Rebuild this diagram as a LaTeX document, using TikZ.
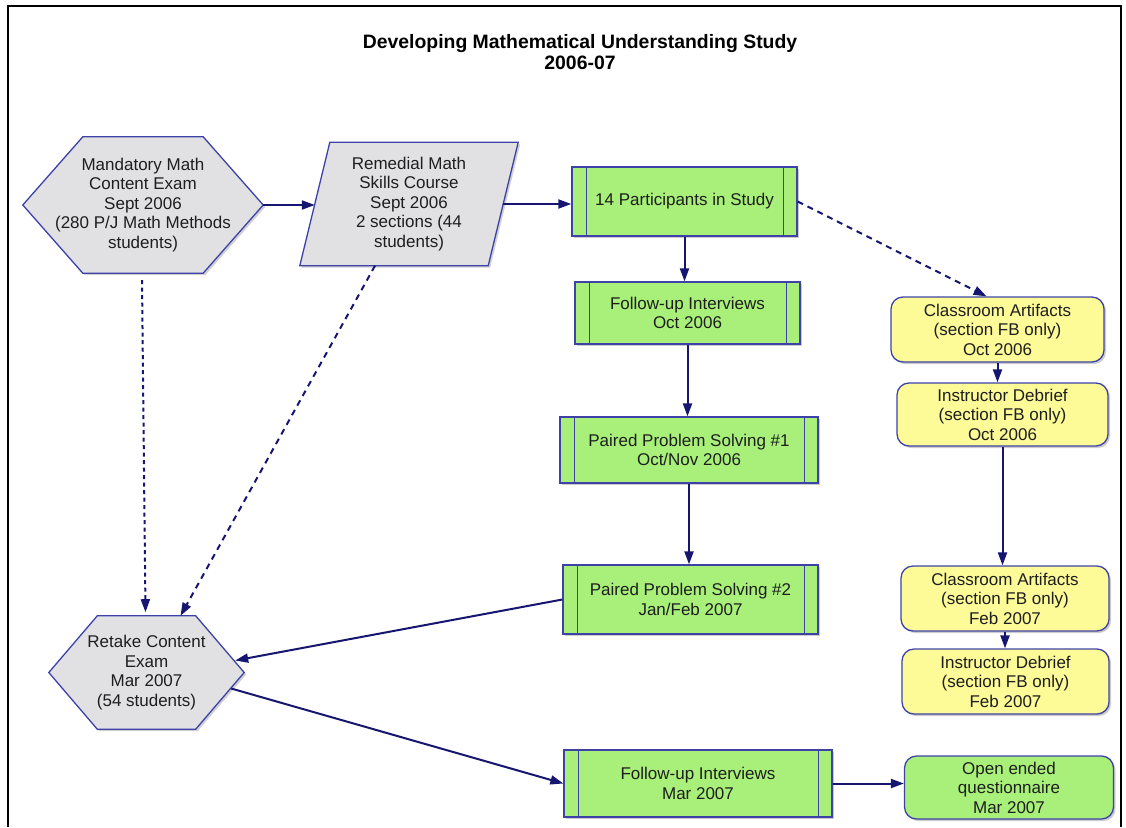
\documentclass[tikz,border=0pt]{standalone}
\usepackage{fontspec}
\setmainfont{Liberation Sans}
\usetikzlibrary{arrows.meta,calc,backgrounds,shadows}
\definecolor{bordc}{RGB}{62,66,168}
\definecolor{grayc}{RGB}{225,225,227}
\definecolor{grn}{RGB}{168,240,122}
\definecolor{ylw}{RGB}{253,250,152}
\definecolor{arrc}{RGB}{22,22,112}
\definecolor{txtc}{RGB}{30,30,30}
\tikzset{
  txt/.style={font=\fontsize{17}{19.5}\selectfont, text=txtc, align=center, inner sep=0pt},
  shd/.style={drop shadow={shadow xshift=2pt, shadow yshift=-2pt, fill=black, opacity=0.2}},
  proc/.style={txt, draw=bordc, line width=1.3pt, fill=grn, shd,
    path picture={
      \draw[bordc, line width=1pt] ([xshift=14pt]path picture bounding box.north west) -- ([xshift=14pt]path picture bounding box.south west);
      \draw[bordc, line width=1pt] ([xshift=-14pt]path picture bounding box.north east) -- ([xshift=-14pt]path picture bounding box.south east);
    }},
  ybox/.style={txt, draw=bordc, line width=1.3pt, fill=ylw, rounded corners=12pt, shd},
  gbox/.style={txt, draw=bordc, line width=1.3pt, fill=grn, rounded corners=12pt, shd},
  shapetxt/.style={txt, draw=none},
  outline/.style={draw=bordc, line width=1.3pt, fill=grayc, line join=miter},
  shadowpoly/.style={fill=black, opacity=0.18, draw=none},
  conn/.style={draw=arrc, line width=2pt, -{Triangle[length=13pt,width=9pt]}},
  dconn/.style={conn, dash pattern=on 4pt off 3.5pt},
  dconnb/.style={conn, dash pattern=on 6pt off 5pt},
}
\begin{document}
\begin{tikzpicture}[x=1pt,y=-1pt]
\useasboundingbox (0,0) rectangle (1126,827);
% frame
\draw[black, line width=1.6pt] (8,827) -- (8,6) -- (1121,6) -- (1121,827);

% title
\node[font=\bfseries\fontsize{19.4}{20.5}\selectfont, align=center, text=black, inner sep=0pt] (title) at (580,52)
  {Developing Mathematical Understanding Study\\2006-07};

% hexagon / parallelogram texts
\node[shapetxt, minimum width=240pt, minimum height=136pt] (mand) at (143,205)
  {Mandatory Math\\Content Exam\\Sept 2006\\(280 P/J Math Methods\\students)};
\node[shapetxt, minimum width=218pt, minimum height=123pt] (rem) at (409,204)
  {Remedial Math\\Skills Course\\Sept 2006\\2 sections (44\\students)};
\node[shapetxt, minimum width=195pt, minimum height=113pt] (retake) at (146.5,672.5)
  {Retake Content\\Exam\\Mar 2007\\(54 students)};

\begin{pgfonlayer}{background}
  \fill[shadowpoly] ($(mand.west)+(2,2)$) -- ($(mand.north west)+(62,2)$) -- ($(mand.north east)+(-58,2)$) -- ($(mand.east)+(2,2)$) -- ($(mand.south east)+(-58,2)$) -- ($(mand.south west)+(62,2)$) -- cycle;
  \draw[outline] (mand.west) -- ($(mand.north west)+(60,0)$) -- ($(mand.north east)+(-60,0)$) -- (mand.east) -- ($(mand.south east)+(-60,0)$) -- ($(mand.south west)+(60,0)$) -- cycle;
  \fill[shadowpoly] ($(rem.south west)+(2,2)$) -- ($(rem.north west)+(32,2)$) -- ($(rem.north east)+(2,2)$) -- ($(rem.south east)+(-28,2)$) -- cycle;
  \draw[outline] (rem.south west) -- ($(rem.north west)+(30,0)$) -- (rem.north east) -- ($(rem.south east)+(-30,0)$) -- cycle;
  \fill[shadowpoly] ($(retake.west)+(2,2)$) -- ($(retake.north west)+(50.5,2)$) -- ($(retake.north east)+(-46.5,2)$) -- ($(retake.east)+(2,2)$) -- ($(retake.south east)+(-46.5,2)$) -- ($(retake.south west)+(50.5,2)$) -- cycle;
  \draw[outline] (retake.west) -- ($(retake.north west)+(48.5,0)$) -- ($(retake.north east)+(-48.5,0)$) -- (retake.east) -- ($(retake.south east)+(-48.5,0)$) -- ($(retake.south west)+(48.5,0)$) -- cycle;
\end{pgfonlayer}

% green process boxes
\node[proc, minimum width=225pt, minimum height=69pt] (p14) at (684.5,201.5) {14 Participants in Study};
\node[proc, minimum width=225pt, minimum height=62pt] (fu1) at (687.5,313) {Follow-up Interviews\\Oct 2006};
\node[proc, minimum width=258pt, minimum height=66pt] (pps1) at (689,450) {Paired Problem Solving \#1\\Oct/Nov 2006};
\node[proc, minimum width=255pt, minimum height=69pt] (pps2) at (690.5,599.5) {Paired Problem Solving \#2\\Jan/Feb 2007};
\node[proc, minimum width=268pt, minimum height=67pt] (fu2) at (698,783.5) {Follow-up Interviews\\Mar 2007};
\node[gbox, minimum width=209pt, minimum height=63pt] (open) at (1009,787.5) {Open ended\\questionnaire\\Mar 2007};

% yellow boxes
\node[ybox, minimum width=213pt, minimum height=65pt] (ca1) at (997.5,329.5) {Classroom Artifacts\\(section FB only)\\Oct 2006};
\node[ybox, minimum width=211pt, minimum height=63pt] (id1) at (1002.5,414.5) {Instructor Debrief\\(section FB only)\\Oct 2006};
\node[ybox, minimum width=208pt, minimum height=65pt] (ca2) at (1005,598.5) {Classroom Artifacts\\(section FB only)\\Feb 2007};
\node[ybox, minimum width=207pt, minimum height=65pt] (id2) at (1005.5,681.5) {Instructor Debrief\\(section FB only)\\Feb 2007};

% connectors
\draw[conn] (mand.east) -- ($(mand.east -| rem.west)+(15,0)$);
\draw[conn] ($(rem.east)+(-15,0)$) -- (rem.east -| p14.west);
\draw[conn] (p14.south) -- (p14.south |- fu1.north);
\draw[conn] (fu1.south) -- (fu1.south |- pps1.north);
\draw[conn] (pps1.south) -- (pps1.south |- pps2.north);
\draw[conn] (pps2.west) -- ($(retake.east)+(-9,-12)$);
\draw[conn] ($(retake.east)+(-13,16)$) -- (fu2.west);
\draw[conn] (fu2.east) -- (fu2.east -| open.west);
\draw[dconn] ($(mand.south)+(-1,7)$) -- ($(mand.south -| retake.north)+(-1,339)$);
\draw[dconnb] ($(rem.south)+(-34,0)$) -- ($(retake.north)+(34,0)$);
\draw[dconnb] (p14.east) -- ($(ca1.north)+(-11,0)$);
\draw[conn] (ca1.south) -- (ca1.south |- id1.north);
\draw[conn] (id1.south) -- (id1.south |- ca2.north);
\draw[conn] (ca2.south) -- (ca2.south |- id2.north);
\end{tikzpicture}
\end{document}
